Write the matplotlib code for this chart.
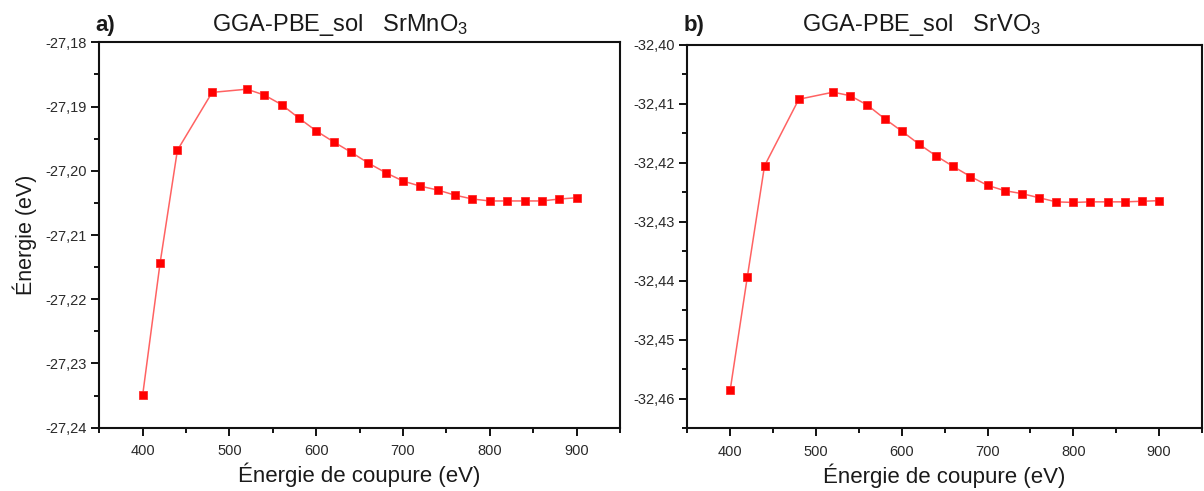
import matplotlib
matplotlib.use("Agg")
import matplotlib.pyplot as plt
from matplotlib.ticker import MultipleLocator, FuncFormatter

plt.rcParams['font.family'] = ['Liberation Sans', 'DejaVu Sans']
plt.rcParams['mathtext.fontset'] = 'custom'
plt.rcParams['mathtext.rm'] = 'Liberation Sans'
plt.rcParams['mathtext.it'] = 'Liberation Sans:italic'
plt.rcParams['mathtext.bf'] = 'Liberation Sans:bold'

cutoff = [400, 420, 440, 480, 520, 540, 560, 580, 600, 620, 640, 660, 680,
          700, 720, 740, 760, 780, 800, 820, 840, 860, 880, 900]

energy_srmno3 = [-27.2349, -27.2144, -27.1968, -27.1878, -27.1873, -27.1882,
                 -27.1897, -27.1918, -27.1938, -27.1955, -27.1971, -27.1988,
                 -27.2003, -27.2016, -27.2024, -27.2030, -27.2038, -27.2044,
                 -27.2047, -27.2047, -27.2047, -27.2047, -27.2044, -27.2042]

energy_srvo3 = [-32.4585, -32.4393, -32.4205, -32.4092, -32.4080, -32.4086,
                -32.4102, -32.4125, -32.4146, -32.4168, -32.4188, -32.4206,
                -32.4223, -32.4238, -32.4247, -32.4252, -32.4259, -32.4266,
                -32.4267, -32.4266, -32.4266, -32.4266, -32.4265, -32.4264]

panels = [
    dict(label='a)', title='GGA-PBE_sol   SrMnO$_3$', y=energy_srmno3,
         ylim=(-27.24, -27.18), rect=(99.3, 42.3, 620, 427.7), ylabel=True,
         title_x=212),
    dict(label='b)', title='GGA-PBE_sol   SrVO$_3$', y=energy_srvo3,
         ylim=(-32.465, -32.40), rect=(687.3, 45, 1202, 428.3), ylabel=False,
         title_x=802),
]

W, H = 1204, 491
fig = plt.figure(figsize=(W / 100, H / 100), dpi=100)

fmt = FuncFormatter(lambda v, p: f"{v:.2f}".replace('.', ','))
txt = '#1a1a1a'

for p in panels:
    x0, y0, x1, y1 = p['rect']
    ax = fig.add_axes([x0 / W, 1 - y1 / H, (x1 - x0) / W, (y1 - y0) / H])
    ax.plot(cutoff, p['y'], color='#ff6262', lw=1.1, zorder=2)
    ax.plot(cutoff, p['y'], ls='none', marker='s', ms=5.4, mfc='#ff0000',
            mec='#ff2a2a', mew=0.6, zorder=3)
    ax.set_xlim(350, 950)
    ax.set_ylim(*p['ylim'])
    ax.xaxis.set_minor_locator(MultipleLocator(50))
    ax.yaxis.set_major_locator(MultipleLocator(0.01))
    ax.yaxis.set_minor_locator(MultipleLocator(0.005))
    ax.yaxis.set_major_formatter(fmt)
    ax.set_xticks([400, 500, 600, 700, 800, 900])
    ax.tick_params(which='both', direction='out', top=False, right=False,
                   colors='#111111', labelcolor='#2a2a2a', labelsize=10.5,
                   width=1.4)
    ax.tick_params(which='major', length=6, pad=3)
    ax.tick_params(which='minor', length=3.5)
    ax.tick_params(axis='x', which='major', pad=6)
    for s in ax.spines.values():
        s.set_linewidth(1.5)
        s.set_color('#111111')
    ax.set_xlabel('Énergie de coupure (eV)', fontsize=16, color=txt, labelpad=3)
    if p['ylabel']:
        ax.set_ylabel('Énergie (eV)', fontsize=15.5, color=txt, labelpad=6)
    fig.text(p['title_x'] / W, 1 - 31 / H, p['title'], fontsize=17,
             color=txt, ha='left', va='baseline')
    fig.text((x0 - 4) / W, 1 - 31 / H, p['label'], fontsize=16,
             color=txt, ha='left', va='baseline', fontweight='bold')

fig.savefig('out.png', dpi=100)
